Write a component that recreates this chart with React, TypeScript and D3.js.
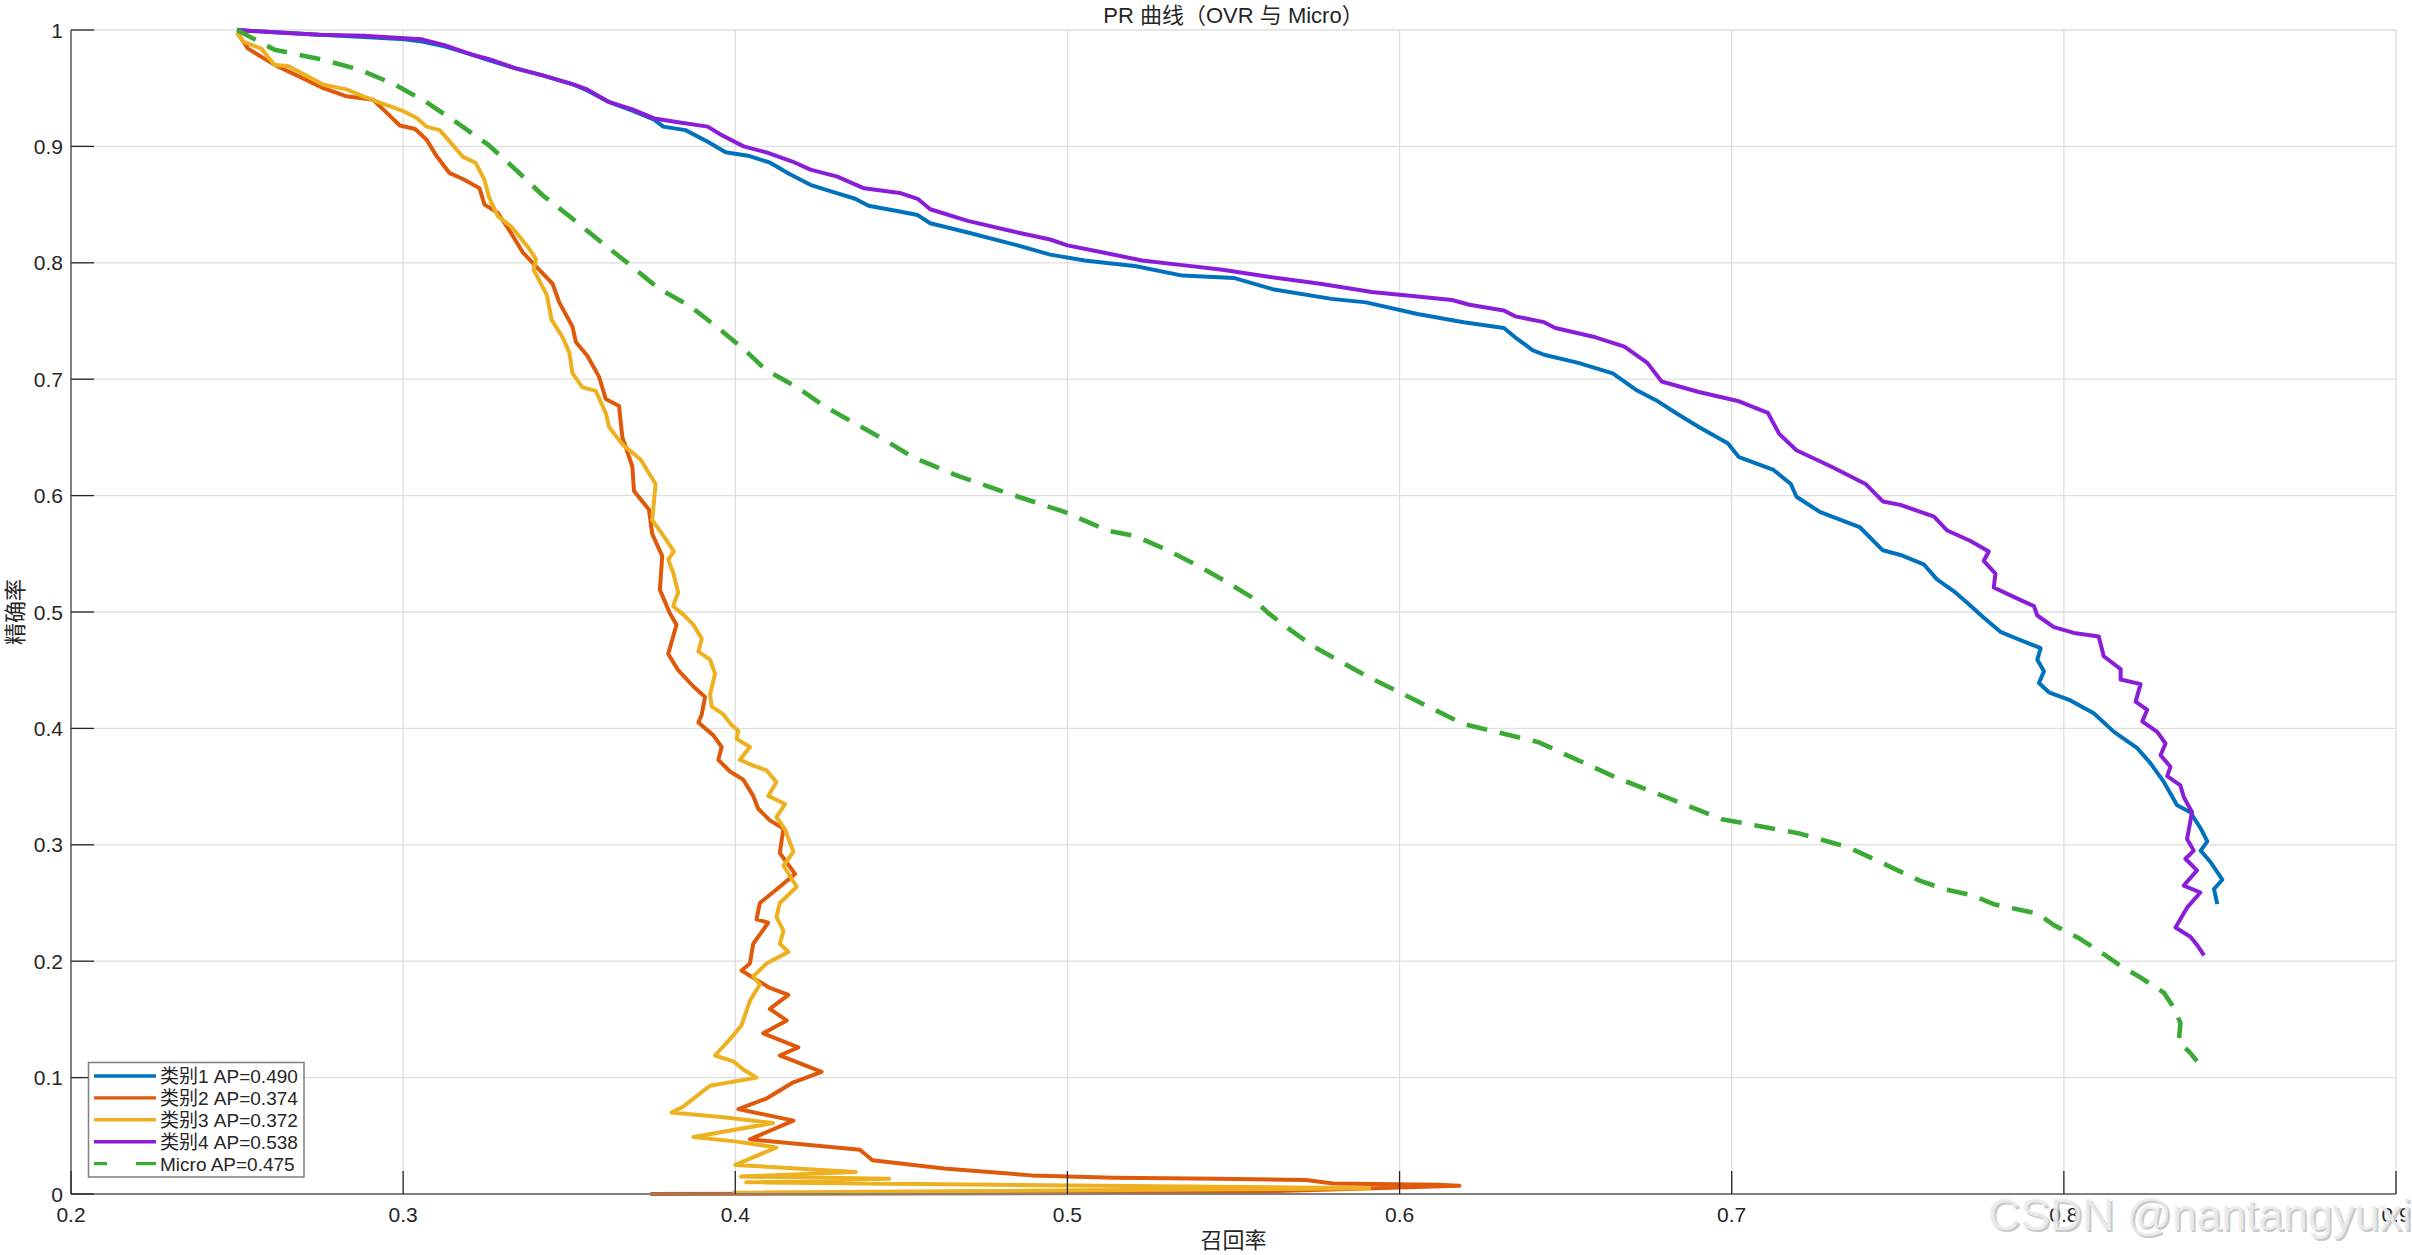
import React, { useEffect, useRef } from 'react';
import * as d3 from 'd3';

// [recall, precision] pairs
const class1PR: [number, number][] = [
  [0.25, 1.0], [0.2613, 0.998], [0.2748, 0.996], [0.2882, 0.994], [0.3003, 0.992], [0.3057, 0.99],
  [0.3124, 0.986], [0.3205, 0.979], [0.3259, 0.974], [0.3339, 0.967], [0.342, 0.961], [0.3514, 0.953],
  [0.3554, 0.948], [0.3621, 0.938], [0.3688, 0.931], [0.3756, 0.923], [0.3783, 0.917], [0.385, 0.914],
  [0.3917, 0.904], [0.3971, 0.895], [0.4038, 0.892], [0.4105, 0.886], [0.4159, 0.877], [0.4226, 0.867],
  [0.4293, 0.861], [0.4361, 0.855], [0.4401, 0.849], [0.4495, 0.844], [0.4549, 0.841], [0.4587, 0.834],
  [0.47, 0.826], [0.485, 0.815], [0.4948, 0.807], [0.5052, 0.802], [0.5207, 0.797], [0.5346, 0.789],
  [0.5501, 0.787], [0.5622, 0.777], [0.5795, 0.769], [0.5899, 0.766], [0.6054, 0.756], [0.6193, 0.749],
  [0.6314, 0.744], [0.6348, 0.736], [0.64, 0.725], [0.6435, 0.721], [0.6538, 0.714], [0.6642, 0.705],
  [0.6711, 0.691], [0.6772, 0.682], [0.6832, 0.671], [0.6901, 0.659], [0.6988, 0.645], [0.7022, 0.633],
  [0.7126, 0.622], [0.7178, 0.61], [0.7195, 0.599], [0.7265, 0.586], [0.7385, 0.573], [0.7455, 0.553],
  [0.7508, 0.549], [0.7578, 0.541], [0.7618, 0.528], [0.7668, 0.518], [0.7709, 0.508], [0.7759, 0.495],
  [0.7809, 0.483], [0.7859, 0.477], [0.793, 0.469], [0.792, 0.459], [0.794, 0.449], [0.7925, 0.439],
  [0.7955, 0.431], [0.802, 0.424], [0.809, 0.413], [0.8151, 0.397], [0.8221, 0.383], [0.8261, 0.37],
  [0.8301, 0.354], [0.8341, 0.334], [0.8381, 0.328], [0.8412, 0.314], [0.8432, 0.303], [0.8412, 0.295],
  [0.8442, 0.285], [0.8477, 0.27], [0.8452, 0.262], [0.8462, 0.249],
];

const class2PR: [number, number][] = [
  [0.25, 0.998], [0.2533, 0.984], [0.2613, 0.97], [0.268, 0.961], [0.276, 0.95], [0.283, 0.943],
  [0.291, 0.94], [0.295, 0.929], [0.299, 0.918], [0.3036, 0.915], [0.307, 0.906], [0.31, 0.892],
  [0.314, 0.877], [0.318, 0.872], [0.323, 0.864], [0.3245, 0.85], [0.3285, 0.843], [0.3326, 0.825],
  [0.336, 0.809], [0.341, 0.794], [0.345, 0.782], [0.347, 0.766], [0.351, 0.745], [0.352, 0.732],
  [0.3555, 0.72], [0.359, 0.702], [0.361, 0.683], [0.365, 0.677], [0.366, 0.65], [0.369, 0.625],
  [0.3695, 0.604], [0.374, 0.588], [0.375, 0.567], [0.378, 0.548], [0.3773, 0.519], [0.3803, 0.499],
  [0.3823, 0.489], [0.3798, 0.464], [0.3828, 0.45], [0.3874, 0.436], [0.3909, 0.427], [0.3899, 0.412],
  [0.3889, 0.405], [0.3934, 0.394], [0.3959, 0.384], [0.3949, 0.373], [0.3984, 0.363], [0.4024, 0.356],
  [0.4054, 0.342], [0.4069, 0.331], [0.4104, 0.321], [0.4145, 0.314], [0.4134, 0.293], [0.418, 0.275],
  [0.4134, 0.264], [0.4074, 0.25], [0.4064, 0.236], [0.4099, 0.233], [0.4054, 0.215], [0.4044, 0.198],
  [0.4019, 0.192], [0.4064, 0.184], [0.4104, 0.177], [0.416, 0.171], [0.4104, 0.159], [0.4155, 0.149],
  [0.4084, 0.138], [0.419, 0.126], [0.4134, 0.119], [0.426, 0.105], [0.4175, 0.096], [0.4094, 0.082],
  [0.4009, 0.073], [0.4175, 0.063], [0.4044, 0.047], [0.4375, 0.038], [0.4413, 0.029], [0.4628, 0.022],
  [0.4892, 0.016], [0.514, 0.014], [0.5454, 0.013], [0.5718, 0.012], [0.58, 0.009], [0.6114, 0.008],
  [0.618, 0.007], [0.5454, 0.001], [0.3744, 0.0],
];

const class3PR: [number, number][] = [
  [0.25, 0.998], [0.2519, 0.99], [0.2573, 0.984], [0.2613, 0.97], [0.2653, 0.969], [0.2707, 0.961],
  [0.276, 0.953], [0.283, 0.949], [0.288, 0.943], [0.2936, 0.937], [0.3003, 0.93], [0.3043, 0.924],
  [0.307, 0.917], [0.311, 0.914], [0.3144, 0.903], [0.318, 0.891], [0.3218, 0.886], [0.3245, 0.871],
  [0.3259, 0.856], [0.3285, 0.84], [0.3326, 0.831], [0.338, 0.812], [0.34, 0.803], [0.3393, 0.794],
  [0.3433, 0.772], [0.3447, 0.751], [0.348, 0.736], [0.35, 0.723], [0.351, 0.705], [0.354, 0.693],
  [0.358, 0.69], [0.361, 0.671], [0.362, 0.659], [0.366, 0.644], [0.3715, 0.631], [0.376, 0.61],
  [0.375, 0.579], [0.378, 0.567], [0.3815, 0.552], [0.3798, 0.545], [0.3813, 0.534], [0.3828, 0.517],
  [0.3813, 0.505], [0.3843, 0.498], [0.3874, 0.489], [0.3899, 0.477], [0.3889, 0.466], [0.3924, 0.459],
  [0.3939, 0.447], [0.3924, 0.429], [0.3929, 0.419], [0.3964, 0.412], [0.3989, 0.403], [0.4009, 0.398],
  [0.4004, 0.391], [0.4044, 0.384], [0.4014, 0.373], [0.4054, 0.368], [0.4094, 0.364], [0.4124, 0.354],
  [0.4099, 0.342], [0.415, 0.335], [0.4124, 0.324], [0.415, 0.313], [0.4175, 0.294], [0.4145, 0.282],
  [0.4185, 0.264], [0.4134, 0.25], [0.4124, 0.238], [0.4145, 0.226], [0.4134, 0.215], [0.416, 0.208],
  [0.4094, 0.198], [0.4054, 0.187], [0.4074, 0.18], [0.4044, 0.166], [0.4019, 0.145], [0.3984, 0.133],
  [0.3939, 0.119], [0.3994, 0.114], [0.4024, 0.107], [0.4064, 0.1], [0.3924, 0.093], [0.3843, 0.075],
  [0.3808, 0.07], [0.3964, 0.066], [0.4114, 0.061], [0.3874, 0.049], [0.4004, 0.045], [0.4124, 0.04],
  [0.4, 0.025], [0.4363, 0.019], [0.4017, 0.015], [0.4463, 0.013], [0.4033, 0.01], [0.5908, 0.005],
  [0.3992, 0.001],
];

const class4PR: [number, number][] = [
  [0.25, 1.0], [0.2613, 0.998], [0.2748, 0.996], [0.2882, 0.995], [0.3003, 0.993], [0.3057, 0.992],
  [0.3124, 0.987], [0.3205, 0.979], [0.3259, 0.975], [0.3339, 0.967], [0.342, 0.961], [0.3514, 0.953],
  [0.3554, 0.949], [0.3621, 0.938], [0.3688, 0.932], [0.3756, 0.924], [0.3823, 0.921], [0.3917, 0.917],
  [0.3957, 0.91], [0.4025, 0.9], [0.4092, 0.895], [0.4172, 0.887], [0.4226, 0.88], [0.4307, 0.874],
  [0.4388, 0.864], [0.4495, 0.86], [0.4549, 0.855], [0.4587, 0.846], [0.47, 0.836], [0.485, 0.826],
  [0.4948, 0.82], [0.5, 0.815], [0.5104, 0.809], [0.5225, 0.802], [0.5346, 0.798], [0.5467, 0.794],
  [0.5605, 0.788], [0.5761, 0.782], [0.5916, 0.775], [0.6054, 0.771], [0.6158, 0.768], [0.621, 0.764],
  [0.6314, 0.759], [0.6348, 0.754], [0.6435, 0.749], [0.6469, 0.744], [0.659, 0.736], [0.6677, 0.728],
  [0.6746, 0.714], [0.6789, 0.698], [0.6901, 0.689], [0.7022, 0.681], [0.7109, 0.671], [0.7143, 0.653],
  [0.7195, 0.639], [0.7299, 0.625], [0.7403, 0.61], [0.7455, 0.595], [0.7508, 0.592], [0.7609, 0.582],
  [0.7649, 0.57], [0.7719, 0.561], [0.7774, 0.552], [0.7759, 0.544], [0.7794, 0.533], [0.7789, 0.521],
  [0.7849, 0.513], [0.791, 0.505], [0.792, 0.497], [0.797, 0.487], [0.803, 0.482], [0.8105, 0.479],
  [0.812, 0.462], [0.8171, 0.451], [0.8171, 0.442], [0.8231, 0.438], [0.8216, 0.423], [0.8251, 0.416],
  [0.8236, 0.406], [0.8281, 0.397], [0.8306, 0.387], [0.8291, 0.377], [0.8321, 0.367], [0.8311, 0.359],
  [0.8351, 0.351], [0.8361, 0.341], [0.8386, 0.328], [0.8371, 0.305], [0.8391, 0.295], [0.8366, 0.288],
  [0.8401, 0.278], [0.8361, 0.265], [0.8411, 0.259], [0.8371, 0.246], [0.8336, 0.229], [0.8381, 0.221],
  [0.8401, 0.214], [0.8422, 0.205],
];

const microPR: [number, number][] = [
  [0.25, 1.0], [0.2613, 0.983], [0.2748, 0.975], [0.2869, 0.966], [0.2976, 0.953], [0.307, 0.938],
  [0.3164, 0.92], [0.3258, 0.901], [0.3339, 0.88], [0.342, 0.858], [0.3514, 0.837], [0.3595, 0.818],
  [0.3675, 0.8], [0.3769, 0.778], [0.3863, 0.763], [0.3944, 0.745], [0.4025, 0.726], [0.4092, 0.708],
  [0.4186, 0.693], [0.4267, 0.677], [0.4361, 0.662], [0.4454, 0.647], [0.4535, 0.633], [0.466, 0.618],
  [0.482, 0.602], [0.4991, 0.586], [0.5121, 0.57], [0.5207, 0.565], [0.5302, 0.553], [0.5398, 0.539],
  [0.5484, 0.525], [0.5553, 0.513], [0.5605, 0.499], [0.5674, 0.484], [0.5743, 0.47], [0.59, 0.445],
  [0.6, 0.431], [0.619, 0.404], [0.642, 0.388], [0.665, 0.358], [0.697, 0.322], [0.72, 0.31],
  [0.735, 0.298], [0.7508, 0.277], [0.7568, 0.269], [0.7639, 0.262], [0.7719, 0.257], [0.7789, 0.249],
  [0.787, 0.244], [0.792, 0.241], [0.797, 0.231], [0.805, 0.219], [0.812, 0.206], [0.8171, 0.196],
  [0.8231, 0.186], [0.8301, 0.173], [0.8331, 0.16], [0.8351, 0.147], [0.8346, 0.131], [0.8381, 0.121],
  [0.8401, 0.114],
];

const seriesNames = ['类别1', '类别2', '类别3', '类别4', 'Micro'];
const seriesAP = ['0.490', '0.374', '0.372', '0.538', '0.475'];
const xTicks = [0.2, 0.3, 0.4, 0.5, 0.6, 0.7, 0.8, 0.9];
const yTicks = [0, 0.1, 0.2, 0.3, 0.4, 0.5, 0.6, 0.7, 0.8, 0.9, 1];

const W = 2412;
const H = 1255;
const FONT = "'Liberation Sans', Arial, 'Noto Sans CJK SC', sans-serif";
const TEXT = '#262626';

const App: React.FC = () => {
  const svgRef = useRef<SVGSVGElement>(null);

  useEffect(() => {
    if (!svgRef.current) return;
    const svg = d3.select(svgRef.current);
    svg.selectAll('*').remove();

    const margin = { top: 30, right: 16, bottom: 61, left: 71 };
    const x = d3.scaleLinear().domain([0.2, 0.9]).range([margin.left, W - margin.right]);
    const y = d3.scaleLinear().domain([0, 1]).range([H - margin.bottom, margin.top]);
    const x0 = x(0.2);
    const x1 = x(0.9);
    const y0 = y(0);
    const y1 = y(1);

    svg.append('rect').attr('width', W).attr('height', H).attr('fill', '#ffffff');

    // Grid
    const grid = svg.append('g').attr('stroke', '#dedede').attr('stroke-width', 1.3);
    xTicks.slice(1).forEach(t => {
      grid.append('line').attr('x1', x(t)).attr('x2', x(t)).attr('y1', y0).attr('y2', y1);
    });
    yTicks.slice(1).forEach(t => {
      grid.append('line').attr('x1', x0).attr('x2', x1).attr('y1', y(t)).attr('y2', y(t));
    });

    // Curves
    const series = [
      { data: class1PR, color: '#0072BD', dash: null as string | null },
      { data: class2PR, color: '#DE5A0A', dash: null },
      { data: class3PR, color: '#EDB120', dash: null },
      { data: class4PR, color: '#8A1ED8', dash: null },
      { data: microPR, color: '#3AAA35', dash: '21,13' },
    ];
    const line = d3
      .line<[number, number]>()
      .x(d => x(d[0]))
      .y(d => y(d[1]));

    const plot = svg.append('g');
    series.forEach(s => {
      plot
        .append('path')
        .datum(s.data)
        .attr('fill', 'none')
        .attr('stroke', s.color)
        .attr('stroke-width', s.dash ? 4.6 : 4)
        .attr('stroke-linejoin', 'round')
        .attr('stroke-dasharray', s.dash)
        .attr('d', line);
    });

    // Axes (left and bottom only, ticks inside)
    const axes = svg.append('g');
    axes.append('line').attr('x1', x0).attr('x2', x1).attr('y1', y0).attr('y2', y0)
      .attr('stroke', '#808080').attr('stroke-width', 2);
    axes.append('line').attr('x1', x0).attr('x2', x0).attr('y1', y0).attr('y2', y1)
      .attr('stroke', '#808080').attr('stroke-width', 2);

    xTicks.forEach(t => {
      axes.append('line').attr('x1', x(t)).attr('x2', x(t)).attr('y1', y0).attr('y2', y0 - 23)
        .attr('stroke', TEXT).attr('stroke-width', 1.3);
      axes.append('text').attr('x', x(t)).attr('y', y0 + 28).attr('text-anchor', 'middle')
        .attr('font-family', FONT).attr('font-size', 21).attr('fill', TEXT)
        .text(d3.format('.1f')(t));
    });
    yTicks.forEach(t => {
      axes.append('line').attr('x1', x0).attr('x2', x0 + 23).attr('y1', y(t)).attr('y2', y(t))
        .attr('stroke', TEXT).attr('stroke-width', 1.3);
      axes.append('text').attr('x', x0 - 8).attr('y', y(t) + 7.5).attr('text-anchor', 'end')
        .attr('font-family', FONT).attr('font-size', 21).attr('fill', TEXT)
        .text(t === 0 || t === 1 ? String(t) : d3.format('.1f')(t));
    });

    // Title and labels
    svg.append('text').attr('x', (x0 + x1) / 2).attr('y', 23).attr('text-anchor', 'middle')
      .attr('font-family', FONT).attr('font-size', 22).attr('fill', TEXT)
      .text('PR 曲线（OVR 与 Micro）');
    svg.append('text').attr('x', (x0 + x1) / 2).attr('y', 1248).attr('text-anchor', 'middle')
      .attr('font-family', FONT).attr('font-size', 22).attr('fill', TEXT)
      .text('召回率');
    svg.append('text').attr('transform', `translate(23,${(y0 + y1) / 2}) rotate(-90)`)
      .attr('text-anchor', 'middle')
      .attr('font-family', FONT).attr('font-size', 22).attr('fill', TEXT)
      .text('精确率');

    // Legend
    const legend = svg.append('g');
    legend.append('rect').attr('x', 88.5).attr('y', 1062.5).attr('width', 215.5).attr('height', 114.5)
      .attr('fill', '#ffffff').attr('stroke', '#7f7f7f').attr('stroke-width', 1.5);
    series.forEach((s, i) => {
      const ry = 1076 + i * 21.9;
      legend.append('line').attr('x1', 94).attr('x2', 156).attr('y1', ry).attr('y2', ry)
        .attr('stroke', s.color).attr('stroke-width', 3.4)
        .attr('stroke-dasharray', s.dash ? '13,29,20' : null);
      legend.append('text').attr('x', 160).attr('y', ry + 7)
        .attr('font-family', FONT).attr('font-size', 19).attr('fill', TEXT)
        .text(`${seriesNames[i]} AP=${seriesAP[i]}`);
    });

    // Watermark
    const wm = svg.append('g').attr('font-family', FONT).attr('font-size', 44.5);
    wm.append('text').attr('x', 1990).attr('y', 1232).attr('fill', '#bdbdbd').attr('opacity', 0.8)
      .text('CSDN @nantangyuxi');
    wm.append('text').attr('x', 1988).attr('y', 1230).attr('fill', '#ececec').attr('opacity', 0.9)
      .text('CSDN @nantangyuxi');
  }, []);

  return (
    <div style={{ position: 'absolute', left: 0, top: 0 }}>
      <svg ref={svgRef} width={W} height={H} style={{ display: 'block' }} />
    </div>
  );
};

export default App;
